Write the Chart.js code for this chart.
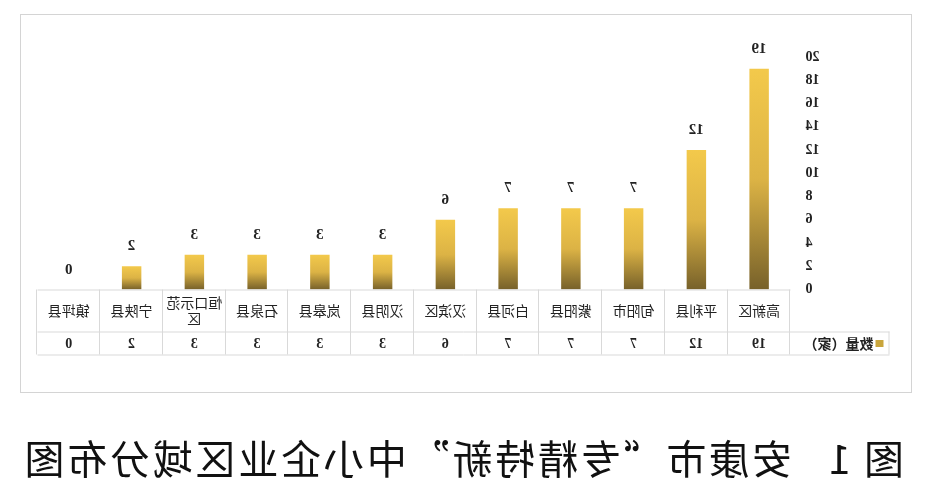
<!DOCTYPE html>
<html>
<head>
    <meta charset="utf-8">
    <title>安康市专精特新中小企业区域分布图</title>
    <script src="https://cdn.jsdelivr.net/npm/chart.js"></script>
    <style>
        body {
            margin: 0;
            background: #fff;
        }
        /* the reference is a mirrored picture, so the whole page is flipped */
        .page {
            position: relative;
            width: 929px;
            height: 496px;
            transform: scaleX(-1);
        }
        .frame {
            position: absolute;
            left: 17px;
            top: 14px;
            width: 892px;
            height: 379px;
            border: 1.5px solid #d4d4d4;
            box-sizing: border-box;
        }
        .chart-container {
            position: relative;
            width: 889px;
            height: 376px;
        }
        .title span {
            position: absolute;
            top: 437px;
            font-family: "Noto Sans CJK SC", sans-serif;
            font-size: 40px;
            line-height: 40px;
            color: #111;
            white-space: pre;
        }
        .title .rest {
            letter-spacing: 2.8px;
        }
    </style>
</head>
<body>
    <div class="page">
        <div class="frame">
            <div class="chart-container">
                <canvas id="districtChart"></canvas>
            </div>
        </div>
        <div class="title">
            <span style="left:25px">图</span><span style="left:78px">1</span><span class="rest" style="left:137px">安康市“专精特新”中小企业区域分布图</span>
        </div>
    </div>

    <script>
        // Chart data
        const categories = ['高新区', '平利县', '旬阳市', '紫阳县', '白河县', '汉滨区',
                            '汉阴县', '岚皋县', '石泉县', '恒口示范区', '宁陕县', '镇坪县'];
        const counts = [19, 12, 7, 7, 7, 6, 3, 3, 3, 3, 2, 0];
        const seriesName = '数量（家）';
        const yMin = 0, yMax = 20, yStep = 2;

        const lineColor = '#d9d9d9';
        const textColor = '#222';
        const cjkFont = '"Noto Sans CJK SC", sans-serif';
        const numFont = '"Liberation Serif", serif';

        // gradient per bar, bright gold on top to dark bronze at the base
        function barFill(ctx) {
            const chart = ctx.chart;
            if (!chart.chartArea) return '#d9b044';
            const y = chart.scales.y;
            const top = y.getPixelForValue(ctx.dataset.data[ctx.dataIndex]);
            const bottom = y.getPixelForValue(0);
            if (bottom - top < 1) return '#d9b044';
            const g = chart.ctx.createLinearGradient(0, top, 0, bottom);
            g.addColorStop(0, '#f3c94b');
            g.addColorStop(0.5, '#dcb345');
            g.addColorStop(1, '#77612a');
            return g;
        }

        // value above every bar
        const valueLabels = {
            id: 'valueLabels',
            afterDatasetsDraw(chart) {
                const ctx = chart.ctx;
                const meta = chart.getDatasetMeta(0);
                ctx.save();
                ctx.font = 'bold 15px ' + numFont;
                ctx.fillStyle = textColor;
                ctx.textAlign = 'center';
                ctx.textBaseline = 'alphabetic';
                meta.data.forEach((bar, i) => {
                    ctx.fillText(String(chart.data.datasets[0].data[i]), bar.x, bar.y - 16);
                });
                ctx.restore();
            }
        };

        // data table under the plot, with the legend key in the value row
        const dataTable = {
            id: 'dataTable',
            afterDraw(chart) {
                const ctx = chart.ctx;
                const xs = chart.scales.x;
                const area = chart.chartArea;
                const n = categories.length;
                const colW = (area.right - area.left) / n;
                const top = area.bottom;
                const row1 = top + 42;
                const row2 = top + 65;
                const legendLeft = area.left - 99;

                ctx.save();
                ctx.strokeStyle = lineColor;
                ctx.lineWidth = 1;
                ctx.beginPath();
                ctx.moveTo(area.left, top + 0.5);
                ctx.lineTo(area.right, top + 0.5);
                ctx.moveTo(legendLeft, row1 + 0.5);
                ctx.lineTo(area.right, row1 + 0.5);
                ctx.moveTo(legendLeft, row2 + 0.5);
                ctx.lineTo(area.right, row2 + 0.5);
                for (let i = 0; i <= n; i++) {
                    const x = Math.round(area.left + i * colW) + 0.5;
                    ctx.moveTo(x, top);
                    ctx.lineTo(x, row2);
                }
                ctx.moveTo(legendLeft + 0.5, row1);
                ctx.lineTo(legendLeft + 0.5, row2);
                ctx.stroke();

                ctx.fillStyle = textColor;
                ctx.textAlign = 'center';
                ctx.textBaseline = 'middle';
                categories.forEach((name, i) => {
                    const cx = xs.getPixelForValue(i);
                    ctx.font = '14px ' + cjkFont;
                    // wrap long names by characters
                    const lines = [];
                    let cur = '';
                    for (const ch of name) {
                        if (ctx.measureText(cur + ch).width > colW - 6) {
                            lines.push(cur);
                            cur = ch;
                        } else {
                            cur += ch;
                        }
                    }
                    lines.push(cur);
                    const lh = 16;
                    const startY = (top + row1) / 2 - (lines.length - 1) * lh / 2;
                    lines.forEach((l, k) => ctx.fillText(l, cx, startY + k * lh));

                    ctx.font = 'bold 14px ' + numFont;
                    ctx.fillText(String(counts[i]), cx, (row1 + row2) / 2 + 1);
                });

                // legend key
                const my = (row1 + row2) / 2;
                ctx.fillStyle = '#c9a53c';
                ctx.fillRect(legendLeft + 6, my - 3, 8, 7);
                ctx.fillStyle = textColor;
                ctx.textAlign = 'left';
                ctx.font = 'bold 14px ' + cjkFont;
                ctx.fillText(seriesName, legendLeft + 16, my + 1);
                ctx.restore();
            }
        };

        const ctx = document.getElementById('districtChart').getContext('2d');
        const chart = new Chart(ctx, {
            type: 'bar',
            data: {
                labels: categories,
                datasets: [{
                    label: seriesName,
                    data: counts,
                    backgroundColor: barFill,
                    borderWidth: 0,
                    categoryPercentage: 1,
                    barPercentage: 0.31
                }]
            },
            options: {
                responsive: true,
                maintainAspectRatio: false,
                animation: false,
                layout: {
                    padding: { left: 0, right: 15.5, top: 42, bottom: 36.5 }
                },
                plugins: {
                    legend: { display: false },
                    tooltip: { enabled: false }
                },
                scales: {
                    x: {
                        grid: { display: false, drawTicks: false },
                        border: { display: false },
                        ticks: { display: false },
                        afterFit(scale) { scale.height = 65; }
                    },
                    y: {
                        min: yMin,
                        max: yMax,
                        grid: { display: false, drawTicks: false },
                        border: { display: false },
                        ticks: {
                            stepSize: yStep,
                            padding: 15,
                            color: textColor,
                            font: { family: numFont, size: 14, weight: 'bold' }
                        },
                        afterFit(scale) { scale.width = 120.5; }
                    }
                }
            },
            plugins: [valueLabels, dataTable]
        });
    </script>
</body>
</html>
